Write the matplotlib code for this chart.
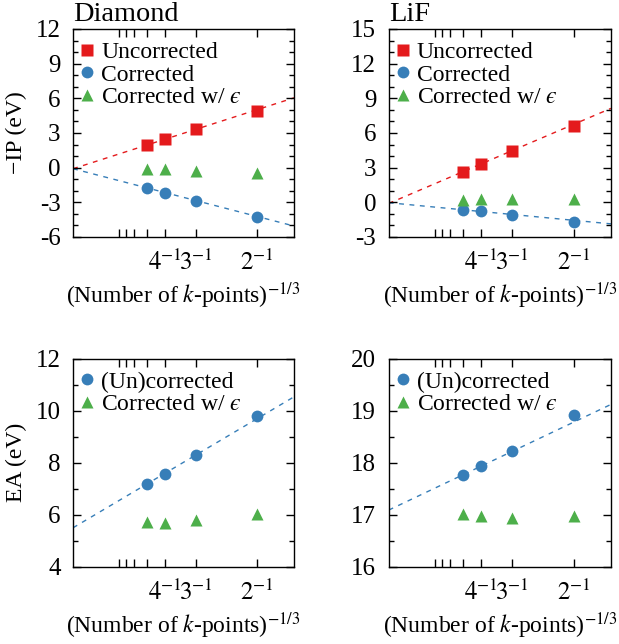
import matplotlib
matplotlib.use("Agg")
import matplotlib.pyplot as plt
import numpy as np
from matplotlib.ticker import FixedLocator, MultipleLocator

plt.rcParams['font.family'] = ['Liberation Serif', 'DejaVu Serif']
plt.rcParams['mathtext.fontset'] = 'stix'
plt.rcParams['font.size'] = 17

# k-point meshes n x n x n -> x = n^-1
kmesh = [5, 4, 3, 2]

# Diamond -IP
dia_ip_unc = [1.96, 2.45, 3.32, 4.94]
dia_ip_cor = [-1.75, -2.15, -2.85, -4.26]
dia_ip_eps = [-0.15, -0.15, -0.27, -0.42]

# LiF -IP
lif_ip_unc = [2.64, 3.34, 4.47, 6.58]
lif_ip_cor = [-0.66, -0.77, -1.06, -1.70]
lif_ip_eps = [0.24, 0.27, 0.32, 0.32]

# EA
dia_ea = [7.20, 7.56, 8.31, 9.79]
dia_ea_eps = [5.71, 5.69, 5.81, 6.02]
lif_ea = [17.77, 17.93, 18.22, 18.91]
lif_ea_eps = [17.01, 16.97, 16.94, 16.98]

xticks_n = [8, 7, 6, 5, 4, 3, 2]
xtick_labels = {4: r'$4^{-1}$', 3: r'$3^{-1}$', 2: r'$2^{-1}$'}
eps_label = 'Corrected w/ $\u03f5$'

red = '#e41a1c'
blue = '#377eb8'
green = '#4daf4a'

x = 1.0 / np.array(kmesh)
xfit = np.linspace(0, 0.6, 50)


def fitline(ax, y, color):
	# extrapolation line from the three densest meshes
	c = np.polyfit(x[:3], y[:3], 1)
	ax.plot(xfit, np.polyval(c, xfit), '--', color=color, lw=1.0, dashes=(3.5, 4), zorder=1)


def style(ax, ylim, major, minor):
	ax.set_xlim(0, 0.6)
	ax.set_ylim(*ylim)
	ax.xaxis.set_major_locator(FixedLocator([1.0 / n for n in xticks_n]))
	ax.set_xticklabels([xtick_labels.get(n, '') for n in xticks_n])
	ax.yaxis.set_minor_locator(MultipleLocator(minor))
	ticks = np.arange(ylim[0], ylim[1] + major / 2, major)
	ax.set_yticks(ticks)
	ax.set_yticklabels(['%g' % t for t in ticks])
	ax.tick_params(which='both', direction='in', top=True, right=True, width=1.0)
	ax.tick_params(axis='x', which='major', length=6, pad=9, labelsize=18)
	ax.tick_params(axis='y', which='major', length=6, pad=9, labelsize=18)
	ax.tick_params(axis='y', which='minor', length=3.5)
	for s in ax.spines.values():
		s.set_linewidth(1.0)
	ax.set_xlabel(r'(Number of $k$-points)$^{-1/3}$', labelpad=4)


fig = plt.figure(figsize=(6.19, 6.44), dpi=100)
ax1 = fig.add_axes([0.118, 0.632, 0.357, 0.323])
ax2 = fig.add_axes([0.628, 0.632, 0.359, 0.323])
ax3 = fig.add_axes([0.118, 0.120, 0.357, 0.323])
ax4 = fig.add_axes([0.628, 0.120, 0.359, 0.323])

ms = 8.5
for ax, unc, cor, eps in [(ax1, dia_ip_unc, dia_ip_cor, dia_ip_eps),
						  (ax2, lif_ip_unc, lif_ip_cor, lif_ip_eps)]:
	fitline(ax, unc, red)
	fitline(ax, cor, blue)
	ax.plot(x, unc, 's', color=red, ms=ms, mec='none', label='Uncorrected')
	ax.plot(x, cor, 'o', color=blue, ms=ms, mec='none', label='Corrected')
	ax.plot(x, eps, '^', color=green, ms=ms, mec='none', label=eps_label)

for ax, ea, eps in [(ax3, dia_ea, dia_ea_eps), (ax4, lif_ea, lif_ea_eps)]:
	fitline(ax, ea, blue)
	ax.plot(x, ea, 'o', color=blue, ms=ms, mec='none', label='(Un)corrected')
	ax.plot(x, eps, '^', color=green, ms=ms, mec='none', label=eps_label)

style(ax1, (-6, 12), 3, 1)
style(ax2, (-3, 15), 3, 1)
style(ax3, (4, 12), 2, 1)
style(ax4, (16, 20), 1, 0.5)

ax1.set_ylabel('\u2212IP (eV)', labelpad=6)
ax3.set_ylabel('EA (eV)', labelpad=6)
ax1.set_title('Diamond', loc='left', pad=6)
ax2.set_title('LiF', loc='left', pad=6)

for ax in [ax1, ax2, ax3, ax4]:
	ax.legend(loc='upper left', bbox_to_anchor=(-0.07, 1.02), frameon=False, fontsize=17,
			  handletextpad=0.05, labelspacing=0.05, borderaxespad=0.3, handlelength=1.1)

fig.savefig('out.png', dpi=100)
